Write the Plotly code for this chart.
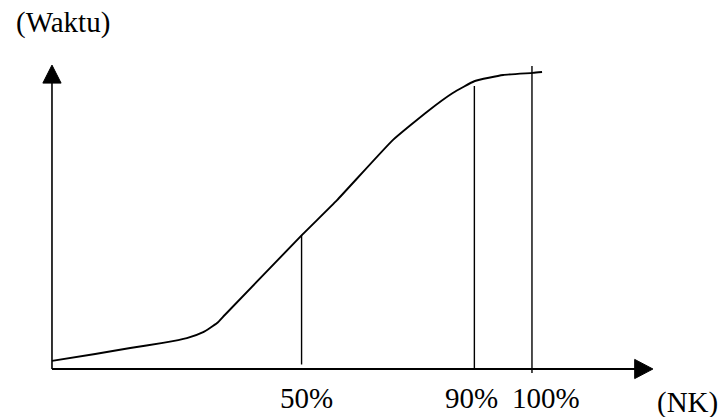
import plotly.graph_objects as go

# ---- data (schematic units: NK position, Waktu) ----
curve_nk = [0.0, 9.0, 16.3, 23.1, 28.1, 31.5, 34.4, 36.0, 52.1, 59.4, 71.0, 78.1, 83.5, 88.1, 94.0, 100.2, 102.1]
curve_waktu = [2.7, 5.0, 7.0, 8.7, 10.3, 12.3, 15.3, 18.0, 44.7, 56.3, 76.3, 85.7, 92.0, 96.0, 98.0, 98.7, 99.0]

marker_labels = ["50%", "90%", "100%"]
marker_nk = [52.0, 88.0, 100.0]
marker_top = [44.7, 94.3, 101.0]
marker_bottom = [1.5, -0.3, -1.3]
marker_label_nk = [53.0, 87.5, 103.0]

y_title = "(Waktu)"
x_title = "(NK)"

# axis extents (schematic units)
x_axis_end = 125.2
y_axis_end = 101.3

FONT = "Liberation Serif, Times New Roman, serif"

fig = go.Figure()

# S-curve
fig.add_trace(go.Scatter(
    x=curve_nk, y=curve_waktu, mode="lines",
    line=dict(color="black", width=1.9, shape="spline", smoothing=0.4),
    hoverinfo="skip", showlegend=False))

# vertical marker lines
for xv, yt, yb in zip(marker_nk, marker_top, marker_bottom):
    fig.add_trace(go.Scatter(
        x=[xv, xv], y=[yb, yt], mode="lines",
        line=dict(color="black", width=1.4),
        hoverinfo="skip", showlegend=False))

# axes with arrowheads
fig.add_shape(type="line", x0=0, y0=0, x1=x_axis_end - 3.5, y1=0,
              line=dict(color="black", width=2))
fig.add_shape(type="line", x0=0, y0=0, x1=0, y1=y_axis_end - 5.5,
              line=dict(color="black", width=1.6))
fig.add_shape(type="path",
              path=f"M {x_axis_end} 0 L {x_axis_end-3.8} 3.2 L {x_axis_end-3.8} -3.2 Z",
              fillcolor="black", line=dict(color="black", width=1))
fig.add_shape(type="path",
              path=f"M 0 {y_axis_end} L -1.9 {y_axis_end-6} L 1.9 {y_axis_end-6} Z",
              fillcolor="black", line=dict(color="black", width=1))

# labels
for lab, xv in zip(marker_labels, marker_label_nk):
    fig.add_annotation(x=xv, y=-9.6, text=lab, showarrow=False,
                       font=dict(family=FONT, size=29, color="black"),
                       xanchor="center", yanchor="middle")
fig.add_annotation(x=132.3, y=-11.0, text=x_title, showarrow=False,
                   font=dict(family=FONT, size=29, color="black"),
                   xanchor="center", yanchor="middle")
fig.add_annotation(x=2.2, y=115.5, text=y_title, showarrow=False,
                   font=dict(family=FONT, size=29, color="black"),
                   xanchor="center", yanchor="middle")

fig.update_layout(
    width=723, height=417,
    margin=dict(l=0, r=0, t=0, b=0),
    paper_bgcolor="white", plot_bgcolor="white",
    xaxis=dict(visible=False, range=[-10.83, 139.8], fixedrange=True),
    yaxis=dict(visible=False, range=[-16.0, 123.0], fixedrange=True),
    showlegend=False,
)

fig.write_html(
    "out.html",
    config={"displayModeBar": False},
    post_script="document.body.style.margin='0';document.body.style.overflow='hidden';",
)
